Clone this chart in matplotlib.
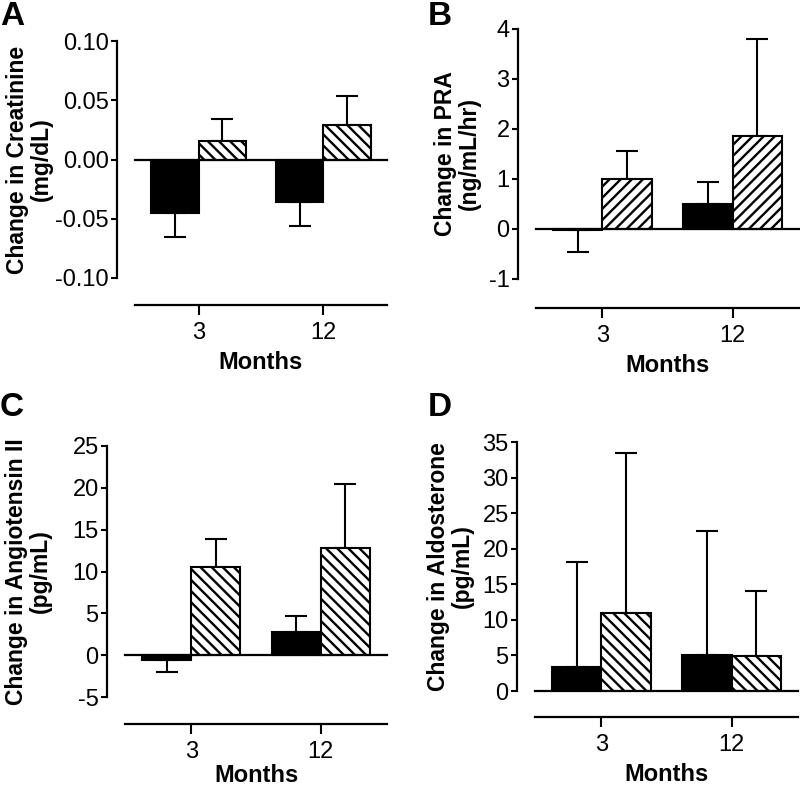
import numpy as np
import matplotlib
matplotlib.use('Agg')
import matplotlib.pyplot as plt

plt.rcParams['font.family'] = ['Liberation Sans', 'DejaVu Sans']
plt.rcParams['axes.unicode_minus'] = False
plt.rcParams['hatch.linewidth'] = 1.7

# data
months = ['3', '12']

a_black = [-0.045, -0.036]
a_black_err = [0.020, 0.020]
a_hatch = [0.016, 0.029]
a_hatch_err = [0.018, 0.025]

b_black = [-0.02, 0.50]
b_black_err = [0.45, 0.43]
b_hatch = [0.99, 1.85]
b_hatch_err = [0.56, 1.95]

c_black = [-0.6, 2.8]
c_black_err = [1.4, 1.9]
c_hatch = [10.5, 12.8]
c_hatch_err = [3.4, 7.7]

d_black = [3.4, 5.1]
d_black_err = [14.7, 17.4]
d_hatch = [10.9, 4.9]
d_hatch_err = [22.6, 9.2]

a_ticks = [-0.10, -0.05, 0.00, 0.05, 0.10]
a_ticklabels = ['-0.10', '-0.05', '0.00', '0.05', '0.10']
b_ticks = [-1, 0, 1, 2, 3, 4]
c_ticks = [-5, 0, 5, 10, 15, 20, 25]
d_ticks = [0, 5, 10, 15, 20, 25, 30, 35]

W, H = 800, 788
fig = plt.figure(figsize=(W / 100, H / 100), dpi=100)
PX = 72 / 100  # points per pixel


def panel(box, black, black_err, hatch, hatch_err, hatch_style, ticks, ticklabels,
          ylabel, label_x, bottom_out, letter, letter_xy, xlabelpad=5):
    left, right, top, bottom = box
    ax = fig.add_axes([left / W, 1 - bottom / H, (right - left) / W, (bottom - top) / H])
    x = np.arange(len(months))
    bw = 0.38
    ax.bar(x - bw / 2, black, bw, color='black', edgecolor='black', linewidth=1.5, zorder=2)
    ax.bar(x + bw / 2, hatch, bw, color='white', edgecolor='black', linewidth=1.5,
           hatch=hatch_style, zorder=2)
    for xs, vals, errs in [(x - bw / 2, black, black_err), (x + bw / 2, hatch, hatch_err)]:
        lo = [e if v < 0 else 0 for v, e in zip(vals, errs)]
        hi = [0 if v < 0 else e for v, e in zip(vals, errs)]
        ax.errorbar(xs, vals, yerr=[lo, hi], fmt='none', ecolor='black',
                    elinewidth=1.5, capsize=8, capthick=1.5, zorder=1)
    ax.axhline(0, color='black', lw=1.6, clip_on=False, zorder=3)
    ax.set_xlim(-0.51, 1.51)
    ax.set_ylim(ticks[0], ticks[-1])
    ax.set_yticks(ticks)
    ax.set_yticklabels(ticklabels)
    ax.set_xticks(x)
    ax.set_xticklabels(months)
    for s in ['top', 'right']:
        ax.spines[s].set_visible(False)
    ax.spines['left'].set_position(('outward', 18 * PX))
    ax.spines['bottom'].set_position(('outward', bottom_out * PX))
    ax.spines['left'].set_linewidth(1.6)
    ax.spines['bottom'].set_linewidth(1.6)
    ax.tick_params(axis='y', length=4, width=1.5, pad=2, labelsize=17)
    ax.tick_params(axis='x', length=7, width=1.5, pad=5, labelsize=17)
    ax.set_xlabel('Months', fontsize=17, fontweight='bold', labelpad=xlabelpad)
    ax.set_ylabel(ylabel, fontsize=16.5, fontweight='bold', linespacing=1.05,
                  va='center', ha='center')
    ax.yaxis.set_label_coords(label_x, 0.5)
    fig.text(letter_xy[0] / W, 1 - letter_xy[1] / H, letter, fontsize=24,
             fontweight='bold', ha='left', va='top')
    return ax


panel((135, 387, 41, 278), a_black, a_black_err, a_hatch, a_hatch_err, '\\\\\\',
      a_ticks, a_ticklabels, 'Change in Creatinine\n(mg/dL)', -0.42, 27, 'A', (0, 1))
panel((536, 799, 29, 279), b_black, b_black_err, b_hatch, b_hatch_err, '///',
      b_ticks, [str(t) for t in b_ticks], 'Change in PRA\n(ng/mL/hr)', -0.30, 29, 'B', (428, 1))
panel((125, 387, 446, 697), c_black, c_black_err, c_hatch, c_hatch_err, '\\\\\\',
      c_ticks, [str(t) for t in c_ticks], 'Change in Angiotensin II\n(pg/mL)', -0.37, 27, 'C', (0, 392),
      xlabelpad=1)
panel((535, 798, 442, 691), d_black, d_black_err, d_hatch, d_hatch_err, '\\\\\\',
      d_ticks, [str(t) for t in d_ticks], 'Change in Aldosterone\n(pg/mL)', -0.32, 26, 'D', (428, 392))

fig.savefig('out.png', dpi=100)
